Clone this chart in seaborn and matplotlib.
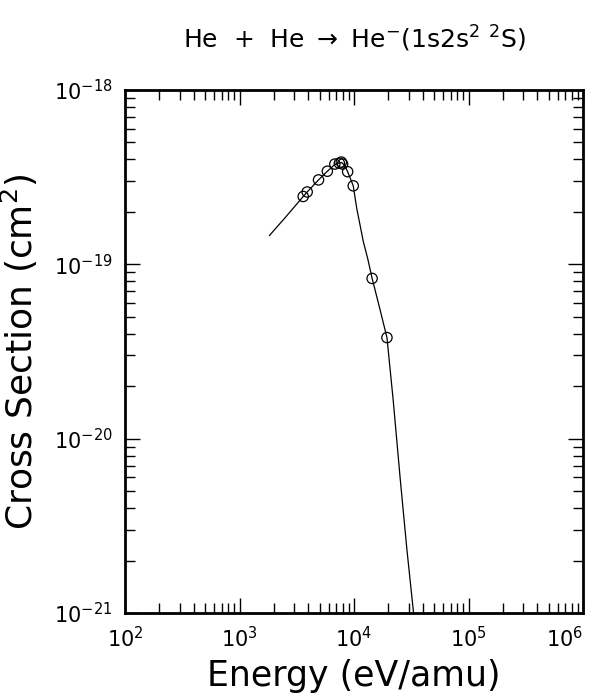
import matplotlib
matplotlib.use("Agg")
import matplotlib.pyplot as plt
import matplotlib.ticker as mticker
import seaborn as sns
import pandas as pd

# Measured points (eV/amu, cm^2)
energy_pts = [3600, 3900, 4900, 5850, 6800, 7450, 7750, 7950, 8800, 9850, 14400, 19400]
sigma_pts = [2.45e-19, 2.6e-19, 3.05e-19, 3.42e-19, 3.76e-19, 3.80e-19, 3.86e-19, 3.76e-19,
             3.40e-19, 2.82e-19, 8.3e-20, 3.8e-20]

# Recommended fit curve
energy_fit = [1820, 2500, 3600, 3900, 4900, 5850, 6800, 7450, 7800, 8300, 8800, 9850,
              10560, 12060, 13170, 14400, 16770, 19400, 22000, 25200, 29000, 34000]
sigma_fit = [1.46e-19, 1.85e-19, 2.45e-19, 2.6e-19, 3.05e-19, 3.42e-19, 3.74e-19, 3.82e-19,
             3.84e-19, 3.68e-19, 3.40e-19, 2.82e-19, 2.1e-19, 1.35e-19, 1.08e-19, 8.3e-20,
             5.6e-20, 3.8e-20, 1.66e-20, 6.1e-21, 2.3e-21, 8.5e-22]

x_major = [1e2, 1e3, 1e4, 1e5, 1e6]
y_major = [1e-21, 1e-20, 1e-19, 1e-18]

sns.set_theme(style="ticks")
plt.rcParams['font.family'] = ['DejaVu Sans']
plt.rcParams['mathtext.fontset'] = 'dejavusans'
for key in ["text.color", "axes.labelcolor", "xtick.color", "ytick.color"]:
    plt.rcParams[key] = "black"

fig = plt.figure(figsize=(5.98, 6.96), dpi=100)
ax = fig.add_axes([125 / 598, 83 / 696, 458 / 598, 523 / 696])

fit_df = pd.DataFrame({"energy": energy_fit, "sigma": sigma_fit})
pts_df = pd.DataFrame({"energy": energy_pts, "sigma": sigma_pts})

sns.lineplot(data=fit_df, x="energy", y="sigma", sort=False, estimator=None,
             color="black", linewidth=0.9, ax=ax)
sns.scatterplot(data=pts_df, x="energy", y="sigma", marker="o", s=55,
                facecolor="none", edgecolor="black", linewidth=0.9, ax=ax, zorder=3)

ax.set_xscale("log")
ax.set_yscale("log")
ax.set_xlim(1e2, 1e6)
ax.set_ylim(1e-21, 1e-18)
ax.xaxis.set_major_locator(mticker.FixedLocator(x_major))
ax.yaxis.set_major_locator(mticker.FixedLocator(y_major))
ax.xaxis.set_major_formatter(mticker.LogFormatterSciNotation())
ax.yaxis.set_major_formatter(mticker.LogFormatterSciNotation())
ax.xaxis.set_minor_formatter(mticker.NullFormatter())
ax.yaxis.set_minor_formatter(mticker.NullFormatter())

for side in ax.spines.values():
    side.set_linewidth(2)
    side.set_color("black")

ax.tick_params(which="both", direction="in", top=True, right=True, color="black", width=1)
ax.tick_params(which="major", length=11, pad=9, labelsize=15)
ax.tick_params(which="minor", length=7)

fig.canvas.draw()
for lab in ax.get_xticklabels():
    if lab.get_position()[0] >= 1e6:
        lab.set_horizontalalignment("right")

ax.set_xlabel("Energy (eV/amu)", fontsize=25, labelpad=6)
ax.set_ylabel("Cross Section (cm$^2$)", fontsize=26, labelpad=10)
ax.set_title("He  +  He $\\rightarrow$ He$^{-}$(1s2s$^{2}$ $^{2}$S)", fontsize=18, pad=30)

fig.savefig("out.png", dpi=100)
